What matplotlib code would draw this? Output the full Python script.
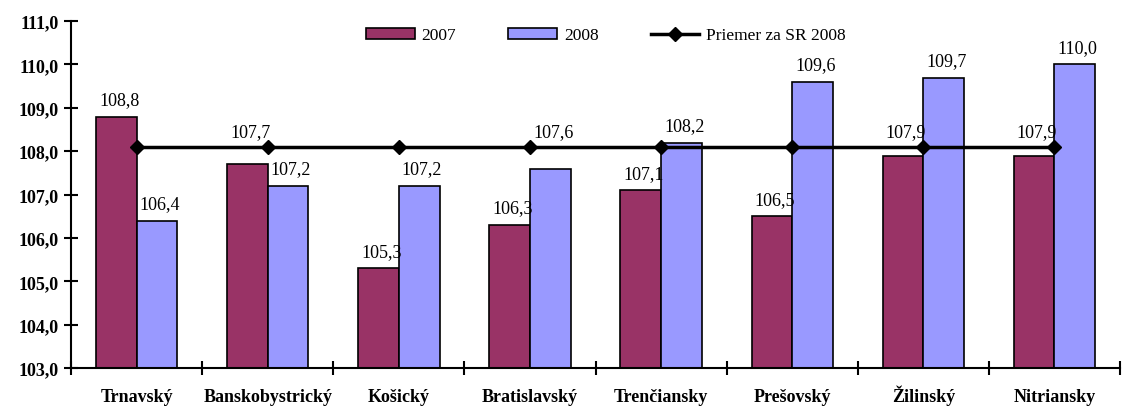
import numpy as np
import matplotlib
matplotlib.use("Agg")
import matplotlib.pyplot as plt
from matplotlib.ticker import FuncFormatter

regions = ["Trnavský", "Banskobystrický", "Košický", "Bratislavský",
           "Trenčiansky", "Prešovský", "Žilinský", "Nitriansky"]
vals_2007 = [108.8, 107.7, 105.3, 106.3, 107.1, 106.5, 107.9, 107.9]
vals_2008 = [106.4, 107.2, 107.2, 107.6, 108.2, 109.6, 109.7, 110.0]
avg_sr_2008 = [108.1] * len(regions)

plt.rcParams["font.family"] = ["Liberation Serif", "DejaVu Serif"]

fig = plt.figure(figsize=(11.29, 4.10), dpi=100)
ax = fig.add_axes([0.063, 0.1, 0.929, 0.846])

x = np.arange(len(regions))
w = 0.31
ax.bar(x - w / 2, np.array(vals_2007) - 103, w, bottom=103, color="#993366",
       edgecolor="black", linewidth=1.2, label="2007", zorder=2)
ax.bar(x + w / 2, np.array(vals_2008) - 103, w, bottom=103, color="#9999FF",
       edgecolor="black", linewidth=1.2, label="2008", zorder=2)
ax.plot(x, avg_sr_2008, color="black", lw=2.5, marker="D", ms=7,
        label="Priemer za SR 2008", zorder=3)

fmt = lambda v: f"{v:.1f}".replace(".", ",")
for xs, vs in ((x - w / 2, vals_2007), (x + w / 2, vals_2008)):
    for xi, v, a in zip(xs, vs, avg_sr_2008):
        # labels that would sit on the average line are lifted above it
        if a - 0.55 < v < a:
            y, dy = a, 5
        else:
            y, dy = v, 6
        ax.annotate(fmt(v), (xi, y), xytext=(2, dy), textcoords="offset points",
                    ha="center", va="bottom", fontsize=13)

ax.set_xlim(-0.5, len(regions) - 0.5)
ax.set_ylim(103, 111)
ax.set_yticks(np.arange(103, 112, 1))
ax.yaxis.set_major_formatter(FuncFormatter(lambda v, p: fmt(v)))
ax.set_xticks(x)
ax.set_xticklabels(regions, fontweight="bold", fontsize=13)
for lbl in ax.get_xticklabels():
    lbl.set_verticalalignment("baseline")
ax.set_xticks(np.arange(-0.5, len(regions), 1), minor=True)
ax.tick_params(axis="x", which="major", length=0, pad=24)
ax.tick_params(axis="x", which="minor", length=10, width=1.5, direction="inout")
ax.tick_params(axis="y", length=10, width=1.5, direction="inout", labelsize=13, pad=4)
for lbl in ax.get_yticklabels():
    lbl.set_fontweight("bold")

for s in ("top", "right"):
    ax.spines[s].set_visible(False)
for s in ("left", "bottom"):
    ax.spines[s].set_linewidth(1.5)

handles, labels = ax.get_legend_handles_labels()
order = [1, 2, 0]
ax.legend([handles[i] for i in order], [labels[i] for i in order],
          loc="upper center", bbox_to_anchor=(0.51, 1.027), ncol=3, frameon=False,
          fontsize=12.5, handlelength=2.8, handleheight=0.6, columnspacing=3,
          handletextpad=0.4)

fig.savefig("out.png", dpi=100)
